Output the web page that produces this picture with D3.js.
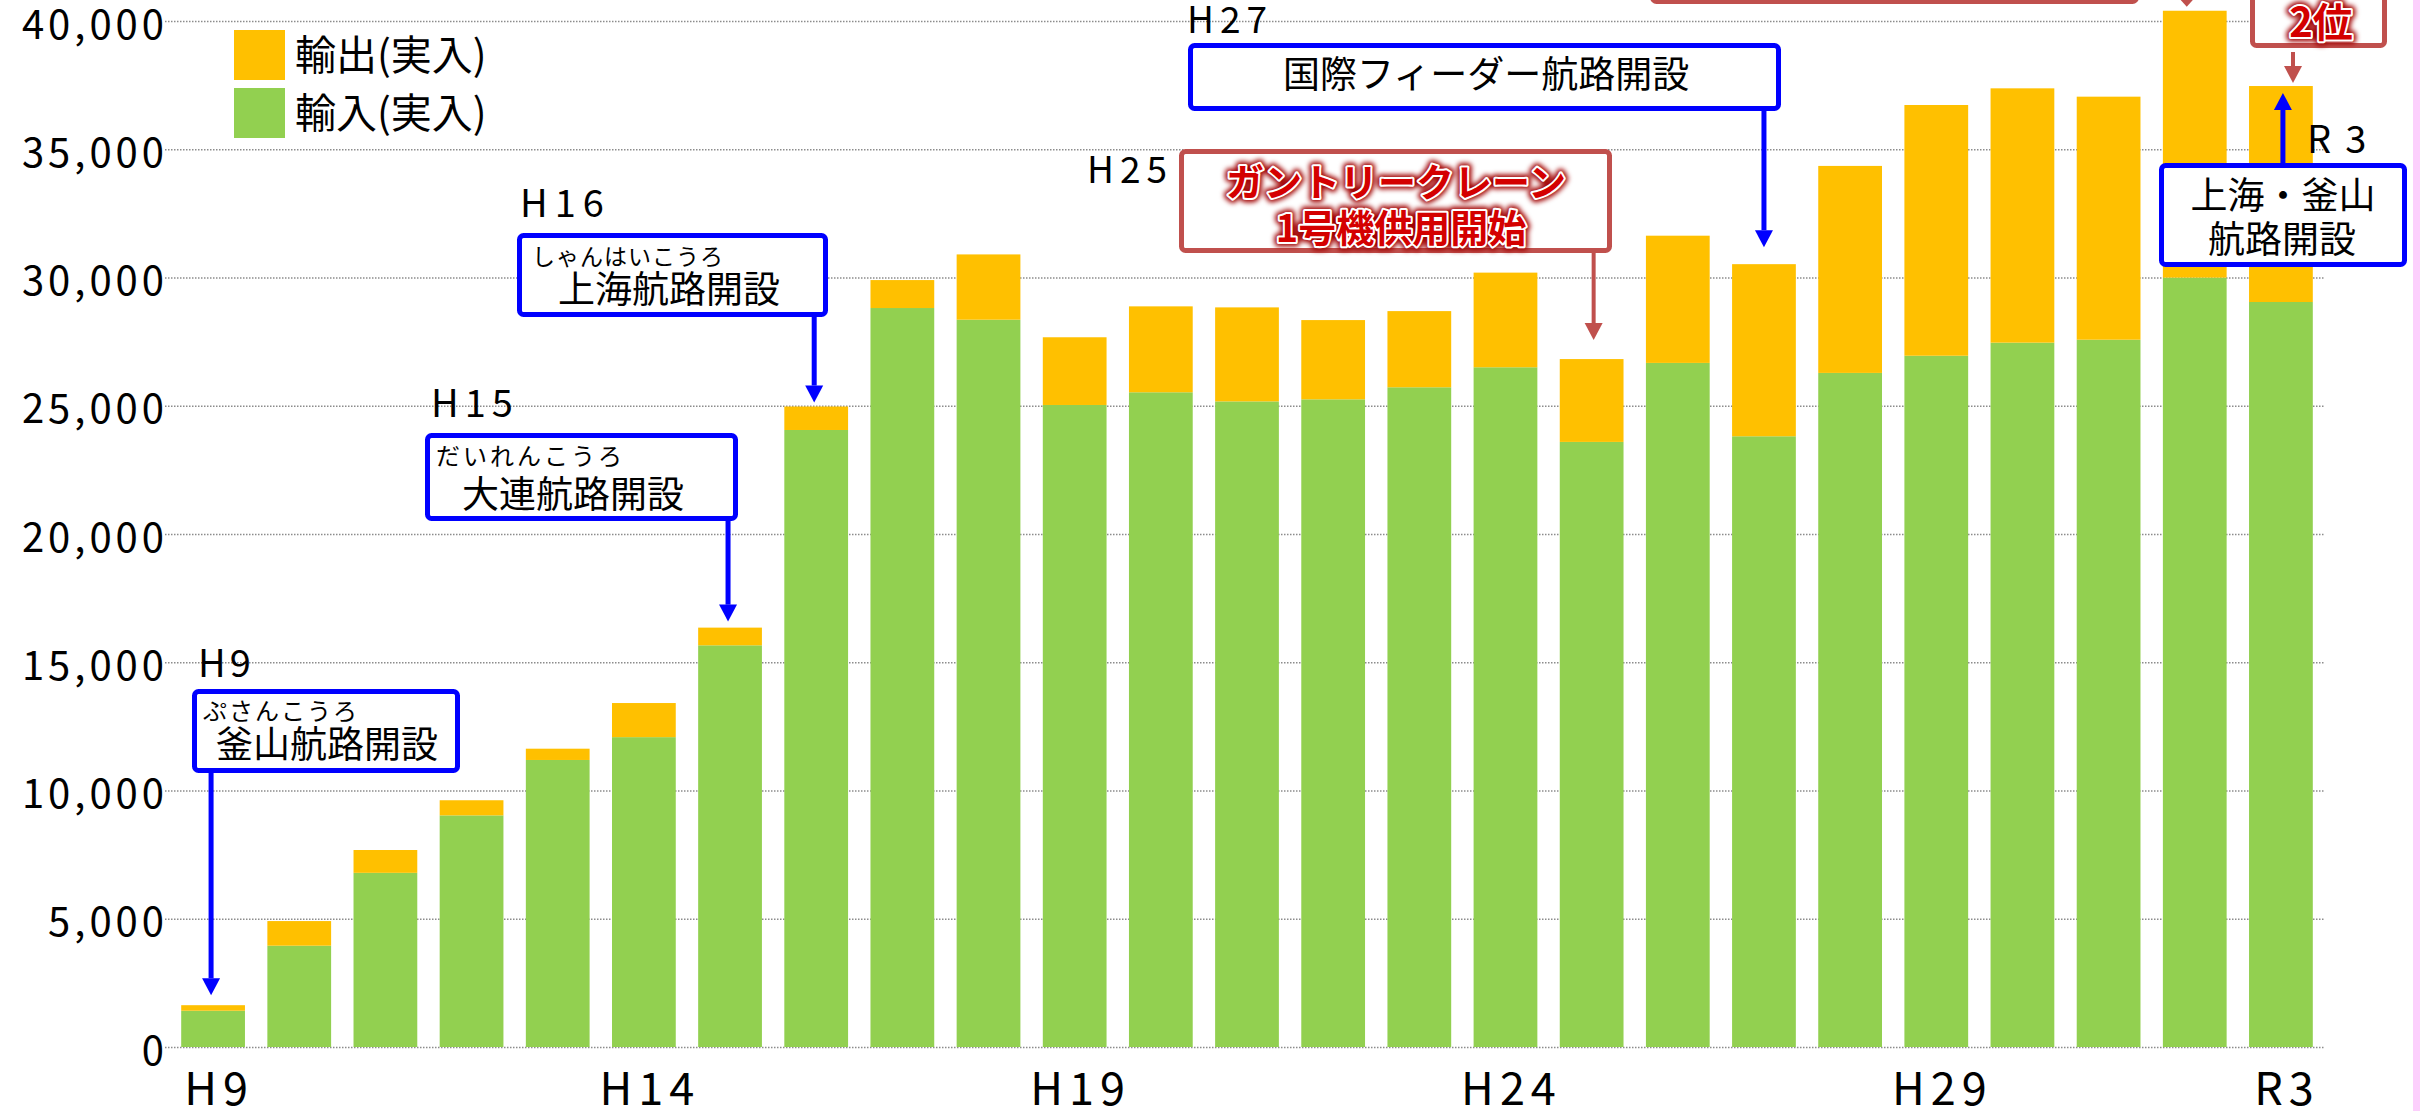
<!DOCTYPE html>
<html><head><meta charset="utf-8">
<script src="https://cdn.jsdelivr.net/npm/d3@7"></script>
<style>
html,body{margin:0;padding:0;background:#fff;}
svg{display:block;}
text{font-family:"Noto Sans CJK JP","Noto Sans",sans-serif;}
</style></head><body>
<svg id="c" width="2420" height="1111"></svg>
<script>
// ---- data ----
const years = ["H9","H10","H11","H12","H13","H14","H15","H16","H17","H18","H19","H20","H21","H22","H23","H24","H25","H26","H27","H28","H29","H30","R1","R2","R3"];
const importVals = [1415,3950,6790,9030,11190,12080,15660,24055,28810,28355,25030,25525,25170,25250,25720,26500,23590,26670,23810,26280,26950,27460,27575,29995,29045];
const exportVals = [215,960,890,590,440,1330,690,915,1090,2545,2640,3350,3665,3090,2970,3690,3230,4960,6710,8070,9775,9915,9475,10405,8420];
const xTickLabels = ["H9","H14","H19","H24","H29","R3"];
const yTickValues = [0,5000,10000,15000,20000,25000,30000,35000,40000];
const seriesNames = ["輸出(実入)","輸入(実入)"];

// ---- setup ----
const W = 2420, H = 1111;
const svg = d3.select("#c");
svg.append("rect").attr("width",W).attr("height",H).attr("fill","#fff");
const defs = svg.append("defs");
const f = defs.append("filter").attr("id","glow").attr("x","-20%").attr("y","-50%").attr("width","140%").attr("height","200%");
f.append("feGaussianBlur").attr("stdDeviation",2.6);

const x = d3.scaleBand().domain(years).range([170,2324]).paddingInner(0.26).paddingOuter(0.13);
const y = d3.scaleLinear().domain([0,40000]).range([1047,21]);
const colors = {imp:"#92d050", exp:"#ffc000"};
const table = years.map((yr,i)=>({year:yr, imp:importVals[i], exp:exportVals[i]}));
const stacked = d3.stack().keys(["imp","exp"])(table);
const total = i => importVals[i] + exportVals[i];
const cx = yr => x(yr) + x.bandwidth()/2;

// ---- y axis + gridlines ----
const gy = svg.append("g").attr("transform","translate(165,0)")
  .call(d3.axisLeft(y).tickValues(yTickValues).tickFormat(d3.format(",")).tickSize(-(2324-165)).tickPadding(0));
gy.select(".domain").remove();
gy.selectAll(".tick line").attr("stroke","#8c8c8c").attr("stroke-width",1.3).attr("stroke-dasharray","1.5,1.5");
gy.selectAll(".tick text").attr("x",3).attr("dy",null).attr("y",17)
  .attr("font-size",40).attr("letter-spacing",4).attr("fill","#000")
  .style("font-family","'Noto Sans CJK JP','Noto Sans',sans-serif");

// ---- bars ----
svg.append("g").selectAll("g").data(stacked).join("g").attr("fill",d=>colors[d.key])
  .selectAll("rect").data(d=>d).join("rect")
  .attr("x",d=>x(d.data.year)).attr("width",x.bandwidth())
  .attr("y",d=>y(d[1])).attr("height",d=>y(d[0])-y(d[1]));

// ---- x axis labels ----
const gx = svg.append("g").attr("transform","translate(6,1105)")
  .call(d3.axisBottom(x).tickValues(xTickLabels).tickSize(0).tickPadding(0));
gx.select(".domain").remove();
gx.selectAll(".tick text").attr("y",0).attr("dy",null)
  .attr("font-size",45).attr("letter-spacing",6).attr("fill","#000")
  .style("font-family","'Noto Sans CJK JP','Noto Sans',sans-serif");

// ---- legend ----
const lg = svg.append("g");
[["exp",30],["imp",88]].forEach(([k,yy],i)=>{
  lg.append("rect").attr("x",234).attr("y",yy).attr("width",51).attr("height",50).attr("fill",colors[k]);
  lg.append("text").attr("x",295).attr("y",yy+40).attr("font-size",41).text(seriesNames[i]);
});

// ---- annotation helpers ----
const ann = svg.append("g");
function box(x0,y0,x1,y1,color,sw){
  ann.append("rect").attr("x",x0+sw/2).attr("y",y0+sw/2).attr("width",x1-x0-sw).attr("height",y1-y0-sw)
    .attr("rx",4).attr("fill","#fff").attr("stroke",color).attr("stroke-width",sw);
}
function arrow(xc,yFrom,yTip,color,lw,hw,hh){
  const dir = yTip > yFrom ? 1 : -1;
  ann.append("line").attr("x1",xc).attr("x2",xc).attr("y1",yFrom).attr("y2",yTip-dir*hh)
    .attr("stroke",color).attr("stroke-width",lw);
  ann.append("path").attr("d",`M${xc-hw/2},${yTip-dir*hh}L${xc+hw/2},${yTip-dir*hh}L${xc},${yTip}Z`).attr("fill",color);
}
function label(tx,ty,str,size,opts={}){
  const t = ann.append("text").attr("x",tx).attr("y",ty).attr("font-size",size).attr("fill","#000").text(str);
  if(opts.ls) t.attr("letter-spacing",opts.ls);
  if(opts.anchor) t.attr("text-anchor",opts.anchor);
  return t;
}
function redText(tx,ty,str,size){
  [["#a00000",9,true],["#fff",4,false]].forEach(([c,w,g])=>{
    const t = ann.append("text").attr("x",tx).attr("y",ty).attr("font-size",size).attr("font-weight",700)
      .attr("text-anchor","middle").attr("fill",c).attr("stroke",c).attr("stroke-width",w)
      .attr("stroke-linejoin","round").text(str);
    if(g) t.attr("filter","url(#glow)");
  });
  ann.append("text").attr("x",tx).attr("y",ty).attr("font-size",size).attr("font-weight",700)
    .attr("text-anchor","middle").attr("fill","#d40000").text(str);
}
const BLUE = "#0000ff", RED = "#c0504d";

// H9 釜山航路開設
label(198,677,"H9",38,{ls:4});
box(192,689,460,773,BLUE,5);
label(203,720,"ぷさんこうろ",24,{ls:2});
label(216,758,"釜山航路開設",37);
arrow(cx("H9")-2,773,y(total(0))-10,BLUE,5,18,17);

// H15 大連航路開設
label(431,417,"H15",38,{ls:6});
box(425,433,738,521,BLUE,5);
label(436,465,"だいれんこうろ",24,{ls:3});
label(462,508,"大連航路開設",37);
arrow(cx("H15")-2,521,y(total(6))-6,BLUE,5,18,17);

// H16 上海航路開設
label(520,217,"H16",38,{ls:7});
box(517,233,828,317,BLUE,5);
label(532,265,"しゃんはいこうろ",23,{ls:1});
label(558,303,"上海航路開設",37);
arrow(cx("H16")-2,317,y(total(7))-4,BLUE,5,18,17);

// H25 gantry crane
label(1087,183,"H25",37,{ls:6});
box(1179,149,1612,253,RED,5);
redText(1396,196,"ガントリークレーン",38);
redText(1401,242,"1号機供用開始",38);
arrow(cx("H25")+2,253,y(total(16))-19,RED,4,18,17);

// H27 国際フィーダー航路開設
label(1187,33,"H27",37,{ls:6});
box(1188,43,1781,111,BLUE,5);
label(1283,88,"国際フィーダー航路開設",37);
arrow(cx("H27"),111,y(total(18))-17,BLUE,5,18,17);

// R3 上海・釜山航路開設
label(2307,153,"R3",38,{ls:14});
box(2159,163,2407,267,BLUE,5);
label(2283,209,"上海・釜山",37,{anchor:"middle"});
label(2282,253,"航路開設",37,{anchor:"middle"});
arrow(cx("R3")+2,163,y(total(24))+7,BLUE,5,18,17);

// top red boxes (cut off)
box(1650,-60,2139,4,RED,5);
arrow(cx("R2")-8,-20,y(total(23))-4,RED,4,18,10);
box(2250,-40,2387,48,RED,5);
redText(2321,37,"2位",40);
arrow(2293,52,y(total(24))-3,RED,4,18,17);

// pink strip at the right edge
svg.append("rect").attr("x",2413).attr("y",0).attr("width",7).attr("height",H).attr("fill","#fccffc");
</script>
</body></html>
